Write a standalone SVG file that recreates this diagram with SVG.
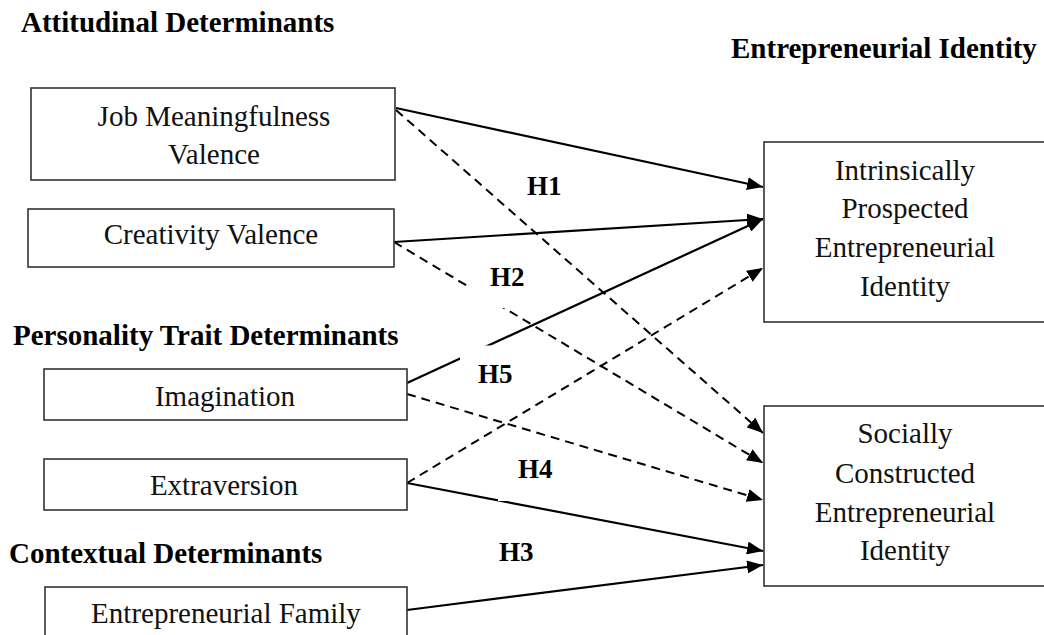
<svg xmlns="http://www.w3.org/2000/svg" width="1044" height="635" viewBox="0 0 1044 635">
<style>
.bg{fill:#ffffff}
.box{fill:#ffffff;stroke:#333333;stroke-width:1.6}
.t{font-family:"Liberation Serif","Times New Roman",serif;font-size:29px;fill:#111111;text-anchor:middle}
.h{font-family:"Liberation Serif","Times New Roman",serif;font-size:29px;font-weight:bold;fill:#000000}
.lab{font-family:"Liberation Serif","Times New Roman",serif;font-size:27px;font-weight:bold;fill:#000000}
.s{fill:none;stroke:#000000;stroke-width:2.2;marker-end:url(#ah)}
.d{fill:none;stroke:#000000;stroke-width:2;stroke-dasharray:9 6;marker-end:url(#ah)}
.mask{fill:#ffffff}
</style>
<defs>
<marker id="ah" viewBox="0 0 16 13" refX="16" refY="6.5" markerWidth="16" markerHeight="13" markerUnits="userSpaceOnUse" orient="auto">
<path d="M0,0 L16,6.5 L0,13 z" fill="#000000" stroke="none"/>
</marker>
</defs>
<rect class="bg" x="0" y="0" width="1044" height="635"/>

<g id="headings">
<text class="h" x="21" y="32">Attitudinal Determinants</text>
<text class="h" x="731" y="58">Entrepreneurial Identity</text>
<text class="h" x="13" y="345">Personality Trait Determinants</text>
<text class="h" x="9" y="563">Contextual Determinants</text>
</g>

<g id="connectors">
<line class="s" x1="396" y1="108" x2="763" y2="187"/>
<line class="d" x1="396" y1="110" x2="763" y2="433"/>
<line class="s" x1="394" y1="242" x2="763" y2="219"/>
<line class="d" x1="394" y1="242" x2="763" y2="463"/>
<line class="s" x1="407" y1="383" x2="763" y2="219"/>
<line class="d" x1="407" y1="394" x2="763" y2="500"/>
<line class="d" x1="407" y1="483" x2="763" y2="268"/>
<line class="s" x1="407" y1="483" x2="763" y2="551"/>
<line class="s" x1="407" y1="610" x2="763" y2="565"/>
</g>

<g id="labels">
<rect class="mask" x="468" y="262" width="66" height="46"/>
<rect class="mask" x="460" y="345.5" width="62" height="44"/>
<rect class="mask" x="498" y="452" width="62" height="49"/>
<text class="lab" x="527" y="195">H1</text>
<text class="lab" x="490" y="286">H2</text>
<text class="lab" x="478" y="383">H5</text>
<text class="lab" x="518" y="478">H4</text>
<text class="lab" x="499" y="561">H3</text>
</g>

<g id="node-job-meaningfulness">
<rect class="box" x="31" y="88" width="364" height="92"/>
<text class="t" x="214" y="126">Job Meaningfulness</text>
<text class="t" x="214" y="164">Valence</text>
</g>

<g id="node-creativity-valence">
<rect class="box" x="28" y="209" width="366" height="58"/>
<text class="t" x="211" y="244">Creativity Valence</text>
</g>

<g id="node-imagination">
<rect class="box" x="44" y="369" width="363" height="51"/>
<text class="t" x="225" y="406">Imagination</text>
</g>

<g id="node-extraversion">
<rect class="box" x="44" y="459" width="363" height="51"/>
<text class="t" x="224" y="495">Extraversion</text>
</g>

<g id="node-entrepreneurial-family">
<rect class="box" x="45" y="587" width="362" height="60"/>
<text class="t" x="226" y="623">Entrepreneurial Family</text>
</g>

<g id="node-intrinsically-prospected">
<rect class="box" x="764" y="142" width="290" height="180"/>
<text class="t" x="905" y="180">Intrinsically</text>
<text class="t" x="905" y="218">Prospected</text>
<text class="t" x="905" y="257">Entrepreneurial</text>
<text class="t" x="905" y="296">Identity</text>
</g>

<g id="node-socially-constructed">
<rect class="box" x="764" y="406" width="290" height="180"/>
<text class="t" x="905" y="443">Socially</text>
<text class="t" x="905" y="483">Constructed</text>
<text class="t" x="905" y="522">Entrepreneurial</text>
<text class="t" x="905" y="560">Identity</text>
</g>
</svg>
